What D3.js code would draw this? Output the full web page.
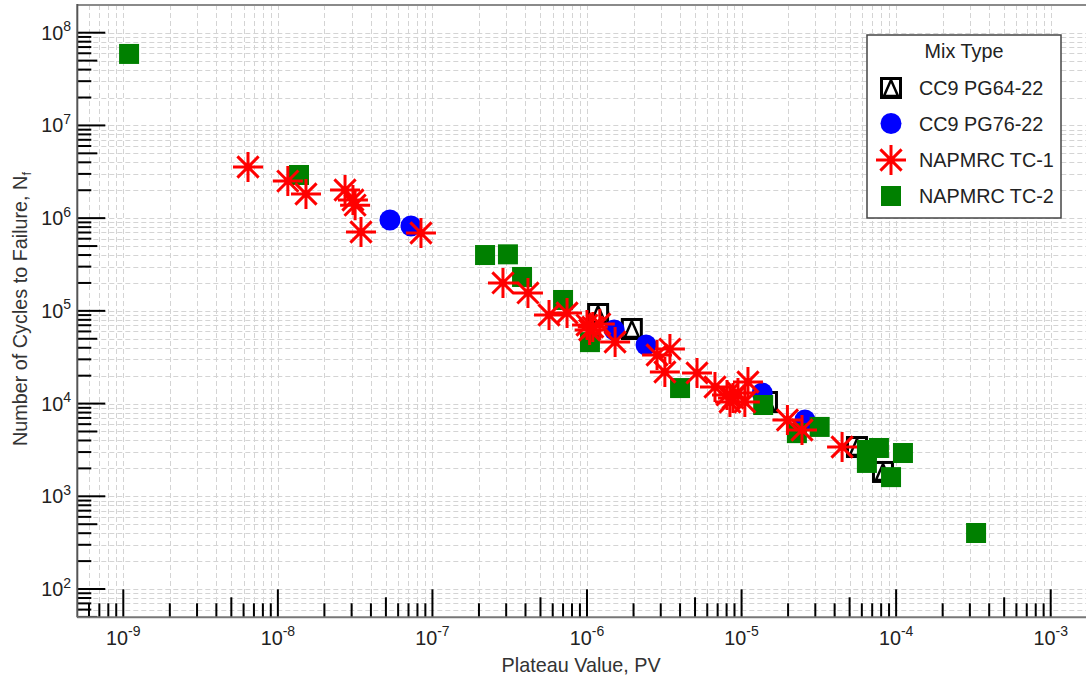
<!DOCTYPE html>
<html>
<head>
<meta charset="utf-8">
<script src="https://cdn.jsdelivr.net/npm/d3@7"></script>
<style>
  html, body { margin: 0; padding: 0; background: #fff; }
  svg { display: block; font-family: "Liberation Sans", Arial, sans-serif; }
</style>
</head>
<body>
<svg id="chart" width="1086" height="681"></svg>
<script>
// ---- data: plateau value (PV) vs number of cycles to failure (Nf) ----
const seriesNames = ["CC9 PG64-22", "CC9 PG76-22", "NAPMRC TC-1", "NAPMRC TC-2"];

const pg6422PV = [1.18e-6, 1.95e-6, 1.46e-5, 5.58e-5, 8.22e-5];
const pg6422Nf = [9.25e4, 6.37e4, 1.04e4, 3.40e3, 1.83e3];

const pg7622PV = [5.31e-8, 7.26e-8, 1.50e-6, 2.41e-6, 1.36e-5, 2.57e-5];
const pg7622Nf = [9.55e5, 8.22e5, 6.21e4, 4.28e4, 1.30e4, 6.65e3];

const tc1PV = [6.41e-9, 1.16e-8, 1.52e-8, 2.72e-8, 3.06e-8, 3.16e-8, 3.45e-8, 8.43e-8,
               2.86e-7, 4.15e-7, 5.68e-7, 7.43e-7, 1.00e-6, 1.09e-6, 1.21e-6, 1.04e-6,
               1.52e-6, 2.84e-6, 3.44e-6, 3.19e-6, 5.15e-6, 6.73e-6, 8.05e-6, 8.80e-6,
               9.48e-6, 1.10e-5, 1.05e-5, 8.41e-6, 1.98e-5, 2.46e-5, 4.47e-5];
const tc1Nf = [3.56e6, 2.51e6, 1.82e6, 2.01e6, 1.57e6, 1.38e6, 7.08e5, 6.92e5,
               2.00e5, 1.56e5, 9.02e4, 9.49e4, 7.03e4, 6.69e4, 7.21e4, 6.21e4,
               4.61e4, 3.34e4, 3.87e4, 2.19e4, 2.14e4, 1.51e4, 1.24e4, 1.15e4,
               1.30e4, 1.71e4, 1.04e4, 1.04e4, 6.65e3, 5.19e3, 3.40e3];

const tc2PV = [1.09e-9, 1.37e-8, 2.19e-7, 3.08e-7, 3.80e-7, 7.00e-7, 1.045e-6, 4.00e-6,
               1.38e-5, 2.28e-5, 3.20e-5, 6.47e-5, 7.74e-5, 6.47e-5, 1.107e-4, 9.27e-5, 3.29e-4];
const tc2Nf = [5.9e7, 2.92e6, 4.00e5, 4.07e5, 2.32e5, 1.31e5, 4.60e4, 1.47e4,
               9.65e3, 4.80e3, 5.60e3, 3.16e3, 3.32e3, 2.29e3, 2.93e3, 1.61e3, 402];

const xMajorExps = [-9, -8, -7, -6, -5, -4, -3];
const yMajorExps = [2, 3, 4, 5, 6, 7, 8];

// ---- layout ----
const svg = d3.select("#chart");
const W = 1086, H = 681;
const plot = { left: 77.3, right: 1086, top: 5, bottom: 617.3 };
const FS = 19.8;

const x = d3.scaleLog()
  .domain([Math.pow(10, -9.2976), Math.pow(10, -2.7716)])
  .range([plot.left, plot.right]);
const y = d3.scaleLog()
  .domain([Math.pow(10, 1.695), Math.pow(10, 8.2987)])
  .range([plot.bottom, plot.top]);

// all decade + sub-decade positions inside a domain
function logPositions(domain) {
  const lo = Math.floor(Math.log10(domain[0])), hi = Math.ceil(Math.log10(domain[1]));
  const out = [];
  for (let e = lo; e <= hi; e++) {
    for (let m = 1; m <= 9; m++) {
      const v = m * Math.pow(10, e);
      if (v >= domain[0] * 0.999 && v <= domain[1] * 1.001) out.push({ v, m });
    }
  }
  return out;
}
const xPos = logPositions(x.domain());
const yPos = logPositions(y.domain());

// ---- grid ----
const grid = svg.append("g").attr("stroke", "#d4d4d4").attr("stroke-width", 1)
  .attr("stroke-dasharray", "5,3").attr("fill", "none");
grid.selectAll("line.gx").data(xPos).enter().append("line")
  .attr("x1", d => Math.round(x(d.v)) + 0.5).attr("x2", d => Math.round(x(d.v)) + 0.5)
  .attr("y1", plot.top).attr("y2", plot.bottom);
grid.selectAll("line.gy").data(yPos).enter().append("line")
  .attr("y1", d => Math.round(y(d.v)) + 0.5).attr("y2", d => Math.round(y(d.v)) + 0.5)
  .attr("x1", plot.left).attr("x2", plot.right);

// ---- frame ----
svg.append("line").attr("x1", plot.left).attr("x2", W).attr("y1", plot.top).attr("y2", plot.top)
  .attr("stroke", "#8a8a8a").attr("stroke-width", 2);

// ---- inward ticks ----
function tickLen(m) { return m === 1 ? 28 : (m === 5 ? 20 : 14); }
const ticks = svg.append("g").attr("stroke", "#000").attr("stroke-width", 2);
ticks.selectAll("line.tx").data(xPos).enter().append("line")
  .attr("x1", d => x(d.v)).attr("x2", d => x(d.v))
  .attr("y1", plot.bottom).attr("y2", d => plot.bottom - tickLen(d.m));
ticks.selectAll("line.ty").data(yPos).enter().append("line")
  .attr("y1", d => y(d.v)).attr("y2", d => y(d.v))
  .attr("x1", plot.left).attr("x2", d => plot.left + tickLen(d.m));

// axis lines
svg.append("line").attr("x1", plot.left).attr("x2", plot.left).attr("y1", plot.top - 1).attr("y2", plot.bottom)
  .attr("stroke", "#555").attr("stroke-width", 2);
svg.append("line").attr("x1", plot.left).attr("x2", W).attr("y1", plot.bottom).attr("y2", plot.bottom)
  .attr("stroke", "#777").attr("stroke-width", 2);

// ---- tick labels (powers of ten) ----
function powLabel(sel, exp) {
  sel.append("tspan").text("10");
  sel.append("tspan").attr("dy", -8.5).attr("font-size", 14).text(String(exp));
}
const xLab = svg.append("g").attr("fill", "#222").attr("font-size", FS);
xMajorExps.forEach(e => {
  const t = xLab.append("text").attr("x", x(Math.pow(10, e))).attr("y", 644.5).attr("text-anchor", "middle");
  powLabel(t, e);
});
const yLab = svg.append("g").attr("fill", "#222").attr("font-size", FS);
yMajorExps.forEach(e => {
  const t = yLab.append("text").attr("x", 71).attr("y", y(Math.pow(10, e)) + 7).attr("text-anchor", "end");
  powLabel(t, e);
});

// ---- axis titles ----
svg.append("text").attr("x", (plot.left + plot.right) / 2 - 0.5).attr("y", 672)
  .attr("text-anchor", "middle").attr("font-size", FS).attr("fill", "#333")
  .text("Plateau Value, PV");
const yt = svg.append("text").attr("transform", "translate(27,309) rotate(-90)")
  .attr("text-anchor", "middle").attr("font-size", FS).attr("fill", "#333");
yt.append("tspan").text("Number of Cycles to Failure,  N");
yt.append("tspan").attr("dy", 4).attr("font-size", 13).text("f");

// ---- marker drawers ----
function drawSquareTri(g) {
  g.append("rect").attr("x", -9.5).attr("y", -9.5).attr("width", 19).attr("height", 19)
    .attr("fill", "#fff").attr("stroke", "#000").attr("stroke-width", 3);
  g.append("path").attr("d", "M0,-8L-7,8L7,8Z").attr("fill", "none")
    .attr("stroke", "#000").attr("stroke-width", 2.5).attr("stroke-linejoin", "miter");
}
function drawCircle(g) {
  g.append("circle").attr("r", 10.5).attr("fill", "#0000ff");
}
function drawStar(g) {
  const r = 15, d = r * Math.SQRT1_2;
  g.append("path")
    .attr("d", `M${-r},0L${r},0M0,${-r}L0,${r}M${-d},${-d}L${d},${d}M${-d},${d}L${d},${-d}`)
    .attr("stroke", "#ff0000").attr("stroke-width", 3).attr("fill", "none");
}
function drawSquare(g) {
  g.append("rect").attr("x", -10).attr("y", -10).attr("width", 20).attr("height", 20)
    .attr("fill", "#008000");
}

function plotSeries(pv, nf, drawer) {
  const pts = pv.map((v, i) => ({ pv: v, nf: nf[i] }));
  const gs = svg.append("g").selectAll("g").data(pts).enter().append("g")
    .attr("transform", d => `translate(${x(d.pv)},${y(d.nf)})`);
  gs.each(function () { drawer(d3.select(this)); });
}
plotSeries(pg6422PV, pg6422Nf, drawSquareTri);
plotSeries(pg7622PV, pg7622Nf, drawCircle);
plotSeries(tc2PV, tc2Nf, drawSquare);
plotSeries(tc1PV, tc1Nf, drawStar);

// ---- legend ----
const lg = svg.append("g");
lg.append("rect").attr("x", 867).attr("y", 35).attr("width", 194).attr("height", 183)
  .attr("fill", "#fff").attr("stroke", "#444").attr("stroke-width", 1.5);
lg.append("text").attr("x", 964).attr("y", 57.5).attr("text-anchor", "middle")
  .attr("font-size", FS).attr("fill", "#222").text("Mix Type");
const drawers = [drawSquareTri, drawCircle, drawStar, drawSquare];
const rowY = [88, 123.5, 160, 196];
seriesNames.forEach((name, i) => {
  const g = lg.append("g").attr("transform", `translate(891,${rowY[i]})`);
  drawers[i](g);
  lg.append("text").attr("x", 919).attr("y", rowY[i] + 7).attr("font-size", FS)
    .attr("fill", "#222").text(name);
});
</script>
</body>
</html>
